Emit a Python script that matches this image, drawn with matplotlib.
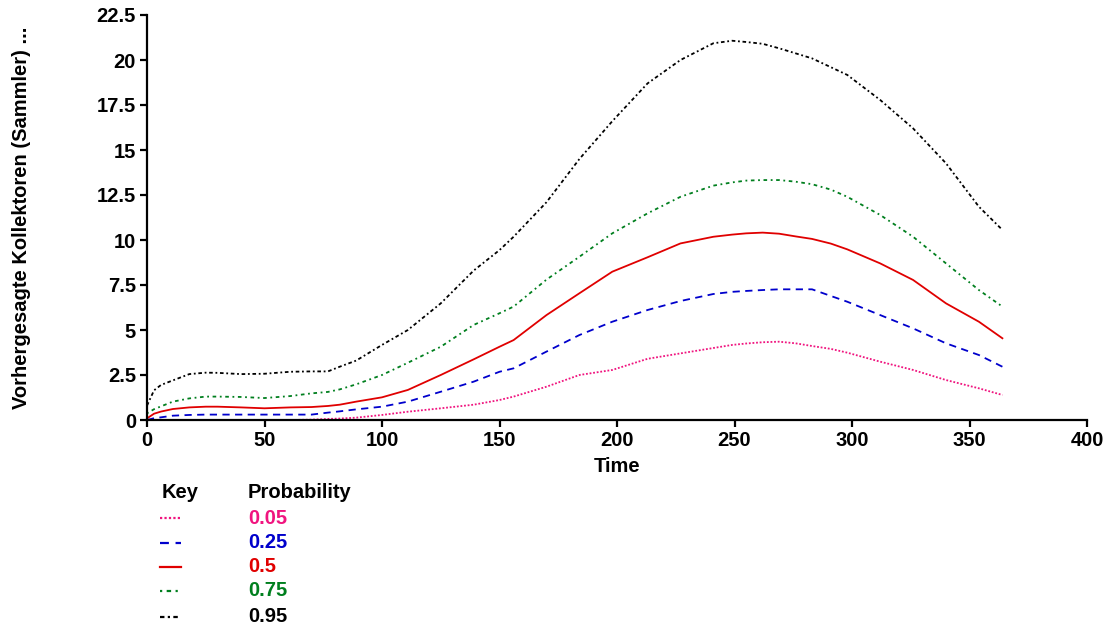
import numpy as np
import matplotlib
matplotlib.use('Agg')
import matplotlib.pyplot as plt
from matplotlib.lines import Line2D

plt.rcParams['font.family'] = ['Liberation Sans', 'DejaVu Sans']
plt.rcParams['font.weight'] = 'bold'

time = [0, 3, 6, 11, 18, 25, 30, 40, 50, 61, 70, 77, 82, 89, 100, 111, 125, 139, 150, 156,
        170, 184, 198, 213, 227, 241, 249, 255, 262, 269, 276, 283, 291, 298, 312, 326,
        340, 354, 364]

p05 = [0, 0, 0, 0, 0, 0, 0, 0, 0, 0, 0.02, 0.06, 0.08, 0.13, 0.28, 0.46, 0.65, 0.85, 1.11,
       1.3, 1.85, 2.5, 2.78, 3.4, 3.7, 4.0, 4.17, 4.25, 4.32, 4.35, 4.26, 4.11, 3.95, 3.74,
       3.24, 2.78, 2.22, 1.76, 1.39]
p25 = [0, 0.1, 0.15, 0.24, 0.28, 0.3, 0.3, 0.3, 0.3, 0.3, 0.3, 0.41, 0.48, 0.59, 0.74,
       1.02, 1.57, 2.13, 2.68, 2.87, 3.8, 4.72, 5.46, 6.11, 6.61, 7.0, 7.12, 7.17, 7.22,
       7.26, 7.26, 7.26, 6.89, 6.57, 5.83, 5.09, 4.26, 3.61, 2.96]
p50 = [0.09, 0.35, 0.47, 0.61, 0.7, 0.74, 0.74, 0.7, 0.65, 0.7, 0.72, 0.78, 0.85, 1.02,
       1.26, 1.67, 2.5, 3.37, 4.07, 4.44, 5.83, 7.04, 8.24, 9.04, 9.81, 10.18, 10.3, 10.37,
       10.41, 10.35, 10.2, 10.06, 9.8, 9.48, 8.7, 7.78, 6.48, 5.46, 4.54]
p75 = [0.37, 0.6, 0.76, 1.02, 1.2, 1.3, 1.3, 1.28, 1.22, 1.33, 1.48, 1.56, 1.7, 1.98, 2.5,
       3.18, 4.07, 5.28, 5.93, 6.3, 7.8, 9.07, 10.37, 11.48, 12.4, 13.02, 13.2, 13.3, 13.33,
       13.33, 13.24, 13.1, 12.8, 12.4, 11.39, 10.18, 8.7, 7.22, 6.3]
p95 = [0.8, 1.65, 1.95, 2.2, 2.55, 2.63, 2.62, 2.55, 2.57, 2.68, 2.7, 2.7, 2.96, 3.3, 4.17,
       5.0, 6.48, 8.3, 9.44, 10.18, 12.1, 14.5, 16.6, 18.7, 20.0, 20.93, 21.07, 21.0, 20.9,
       20.65, 20.37, 20.09, 19.6, 19.17, 17.78, 16.2, 14.26, 11.85, 10.56]

labels = ['0.05', '0.25', '0.5', '0.75', '0.95']
series = [p05, p25, p50, p75, p95]
colors = ['#F0147F', '#0000CC', '#E00000', '#007F1E', '#000000']
styles = [(0, (1, 1)), (0, (4, 3)), '-', (0, (1, 2, 2, 2)), (0, (2, 1.5, 1, 1.5))]
FS = 14.5

fig = plt.figure(figsize=(11.11, 6.3), dpi=100)
ax = fig.add_axes([147 / 1111, 210 / 630, 940 / 1111, 405 / 630])

for vals, c, ls in zip(series, colors, styles):
    ax.plot(time, vals, color=c, linestyle=ls, linewidth=1.3)

ax.set_xlim(0, 400)
ax.set_ylim(0, 22.5)
ax.set_xticks(np.arange(0, 401, 50))
ax.set_yticks(np.arange(0, 22.6, 2.5))
ax.set_yticklabels(['0', '2.5', '5', '7.5', '10', '12.5', '15', '17.5', '20', '22.5'])

for s in ['top', 'right']:
    ax.spines[s].set_visible(False)
for s in ['left', 'bottom']:
    ax.spines[s].set_linewidth(1.6)
ax.tick_params(length=5, width=1.6, labelsize=FS, pad=3)
for lab in ax.get_xticklabels() + ax.get_yticklabels():
    lab.set_fontweight('bold')

ax.set_xlabel('Time', fontsize=FS, fontweight='bold', labelpad=5)
ax.set_ylabel('Vorhergesagte Kollektoren (Sammler) ...', fontsize=FS, fontweight='bold')
ax.yaxis.set_label_coords(-0.1235, 0.5)

# key below the plot
fig.text(162 / 1111, 1 - 493 / 630, 'Key', fontsize=FS, fontweight='bold', va='center')
fig.text(248 / 1111, 1 - 493 / 630, 'Probability', fontsize=FS, fontweight='bold', va='center')
rows = [518, 543, 567, 591, 617]
for lab, c, ls, yr in zip(labels, colors, styles, rows):
    yf = 1 - yr / 630
    fig.add_artist(Line2D([160 / 1111, 181 / 1111], [yf, yf], transform=fig.transFigure,
                          color=c, linestyle=ls, linewidth=1.6))
    fig.text(248 / 1111, yf, lab, fontsize=FS, fontweight='bold', color=c, va='center')

fig.savefig('out.png', dpi=100, facecolor='white')
